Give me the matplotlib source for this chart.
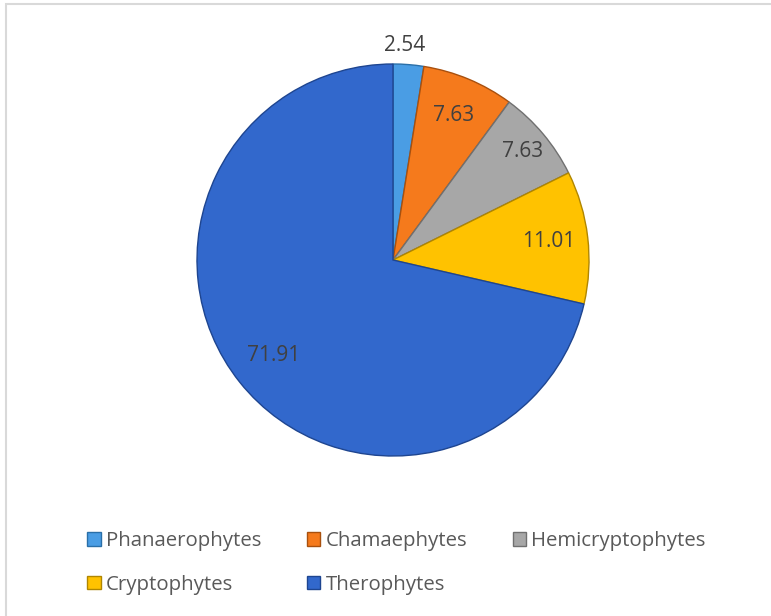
import matplotlib.pyplot as plt
from matplotlib.patches import Rectangle
import numpy as np

categories = ['Phanaerophytes', 'Chamaephytes', 'Hemicryptophytes', 'Cryptophytes', 'Therophytes']
values = [2.54, 7.63, 7.63, 11.01, 71.91]
value_labels = ['2.54', '7.63', '7.63', '11.01', '71.91']
colors = ['#4A9DE4', '#F57A1C', '#A7A7A7', '#FFC200', '#3268CC']
edge_colors = ['#2A6FA8', '#A8500E', '#707070', '#B08600', '#1E4590']
label_dist = [1.10, 0.80, 0.86, 0.80, 0.78]

W, H = 771, 616
fig = plt.figure(figsize=(W / 100, H / 100), dpi=100)

# light frame on left/top
fig.patches.append(Rectangle((6 / W, -0.1), 1.2, 1 - 3.5 / H + 0.1, transform=fig.transFigure,
                             fill=False, edgecolor='#D9D9D9', linewidth=1.5))

cx, cy, r = 393, 260, 196
ax = fig.add_axes([(cx - r) / W, (H - cy - r) / H, 2 * r / W, 2 * r / H])
wedges, _ = ax.pie(values, colors=colors, startangle=90, counterclock=False, radius=1,
                   wedgeprops=dict(linewidth=1.0))
for w, ec in zip(wedges, edge_colors):
    w.set_edgecolor(ec)
ax.set_xlim(-1, 1)
ax.set_ylim(-1, 1)
ax.set_aspect('equal')
ax.axis('off')

for w, lab, d in zip(wedges, value_labels, label_dist):
    ang = np.deg2rad((w.theta1 + w.theta2) / 2)
    ax.text(d * np.cos(ang) - (0.03 if d > 1 else 0), d * np.sin(ang), lab,
            ha='center', va='center', fontsize=15, color='#404040', family='Open Sans')

# legend, row-major order over 3 columns
order = [0, 3, 1, 4, 2]
leg = fig.legend([wedges[i] for i in order], [categories[i] for i in order],
                 loc='center', bbox_to_anchor=(0.5 + 11 / W, 1 - 563 / H), ncol=3, frameon=False,
                 prop={'family': 'Open Sans', 'size': 14.7}, labelcolor='#595959',
                 handlelength=0.65, handleheight=0.65, handletextpad=0.25,
                 columnspacing=2.25, labelspacing=1.15)

fig.savefig('out.png', dpi=100)
